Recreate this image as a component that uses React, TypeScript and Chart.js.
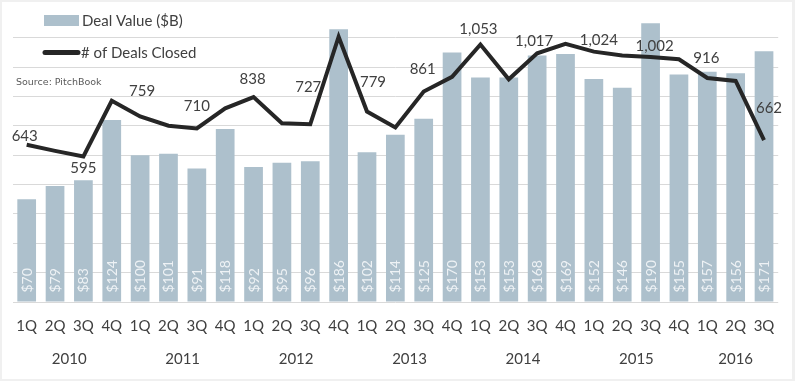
import { useEffect, useRef } from 'react';
import { Chart, registerables } from 'chart.js';

Chart.register(...registerables);

const quarterLabels = [
  '1Q', '2Q', '3Q', '4Q', '1Q', '2Q', '3Q', '4Q', '1Q', '2Q', '3Q', '4Q',
  '1Q', '2Q', '3Q', '4Q', '1Q', '2Q', '3Q', '4Q', '1Q', '2Q', '3Q', '4Q',
  '1Q', '2Q', '3Q',
];
const yearLabels = ['2010', '2011', '2012', '2013', '2014', '2015', '2016'];
const quartersPerYear = [4, 4, 4, 4, 4, 4, 3];

const dealValue = [
  70, 79, 83, 124, 100, 101, 91, 118, 92, 95, 96, 186, 102, 114, 125, 170,
  153, 153, 168, 169, 152, 146, 190, 155, 157, 156, 171,
];
const dealsClosed = [
  643, 618, 595, 823, 759, 721, 710, 792, 838, 731, 727, 1085, 779, 714, 861,
  921, 1053, 911, 1017, 1056, 1024, 1008, 1002, 993, 916, 904, 662,
];

const barTicks = { min: 0, max: 200, step: 20 };
const lineAxis = { min: 0, max: 1200 };

// style: label nudges (px) for the labelled (every other) line points
const lineLabelNudgeX = [-2, 0, 2, 0, -1, -2, 6, -1, -2, -3, 5, 4, -1, 5];
const lineLabelNudgeY = [-9, 12, -25, -22, -18, -37, -29, -22, -15, -12, -11, -11, -20, -32];

const FONT = 'Lato, "Open Sans", sans-serif';
const TEXT = '#404040';
const BAR = '#adc0cc';
const LINE = '#262626';

const decor = {
  id: 'decor',
  beforeDraw(chart: any) {
    const { ctx, width, height } = chart;
    ctx.save();
    ctx.fillStyle = '#f0f0f0';
    ctx.fillRect(0, 0, width, height);
    ctx.fillStyle = '#ffffff';
    ctx.fillRect(2, 2, width - 5, height - 4);
    ctx.restore();
  },
  afterDatasetsDraw(chart: any) {
    const { ctx } = chart;
    const xScale = chart.scales.x;
    const lineMeta = chart.getDatasetMeta(0);
    const barMeta = chart.getDatasetMeta(1);
    ctx.save();

    // bar value labels
    ctx.font = `14px ${FONT}`;
    ctx.fillStyle = '#eef2f5';
    ctx.textAlign = 'left';
    ctx.textBaseline = 'middle';
    barMeta.data.forEach((el: any, i: number) => {
      ctx.save();
      ctx.translate(el.x, el.base - 9);
      ctx.rotate(-Math.PI / 2);
      ctx.fillText(`$${dealValue[i]}`, 0, 0.5);
      ctx.restore();
    });

    // line value labels
    ctx.font = `15px ${FONT}`;
    ctx.fillStyle = TEXT;
    ctx.textAlign = 'center';
    let k = 0;
    lineMeta.data.forEach((el: any, i: number) => {
      if (i % 2 !== 0) return;
      const txt = dealsClosed[i].toLocaleString('en-US');
      ctx.fillText(txt, el.x + (lineLabelNudgeX[k] || 0), el.y + (lineLabelNudgeY[k] || -18));
      k++;
    });

    // quarter labels
    const area = chart.chartArea;
    ctx.font = `15px ${FONT}`;
    quarterLabels.forEach((q, i) => {
      ctx.fillText(q, xScale.getPixelForValue(i), area.bottom + 24);
    });
    // year labels
    let start = 0;
    yearLabels.forEach((y, j) => {
      const end = start + quartersPerYear[j] - 1;
      const cx = (xScale.getPixelForValue(start) + xScale.getPixelForValue(end)) / 2;
      ctx.fillText(y, cx, area.bottom + 57);
      start = end + 1;
    });

    // legend
    ctx.fillStyle = BAR;
    ctx.fillRect(44, 15, 35, 11);
    ctx.strokeStyle = LINE;
    ctx.lineWidth = 5;
    ctx.lineCap = 'round';
    ctx.beginPath();
    ctx.moveTo(45, 52.5);
    ctx.lineTo(78, 52.5);
    ctx.stroke();
    ctx.font = `15px ${FONT}`;
    ctx.fillStyle = TEXT;
    ctx.textAlign = 'left';
    ctx.fillText(chart.data.datasets[1].label, 82, 21);
    ctx.fillText(chart.data.datasets[0].label, 81, 53);

    // source
    ctx.font = `9.5px "DejaVu Sans", sans-serif`;
    ctx.fillStyle = '#595959';
    ctx.fillText('Source: PitchBook', 16, 83);
    ctx.restore();
  },
};

export default function App() {
  const ref = useRef<HTMLCanvasElement>(null);
  useEffect(() => {
    if (!ref.current) return;
    const chart = new Chart(ref.current, {
      type: 'bar',
      data: {
        labels: quarterLabels,
        datasets: [
          {
            type: 'line',
            label: '# of Deals Closed',
            data: dealsClosed,
            yAxisID: 'y1',
            borderColor: LINE,
            borderWidth: 4,
            pointRadius: 0,
            tension: 0,
            order: 0,
          } as any,
          {
            type: 'bar',
            label: 'Deal Value ($B)',
            data: dealValue,
            yAxisID: 'y',
            backgroundColor: BAR,
            barPercentage: 0.66,
            categoryPercentage: 1,
            order: 1,
          },
        ],
      },
      options: {
        responsive: false,
        animation: false,
        devicePixelRatio: 1,
        layout: { padding: { left: 12.5, right: 16.8, top: 8.6, bottom: 79 } },
        plugins: { legend: { display: false }, tooltip: { enabled: false } },
        scales: {
          x: { display: false },
          y: {
            min: barTicks.min,
            max: barTicks.max,
            ticks: { stepSize: barTicks.step, display: false },
            grid: {
              drawTicks: false,
              color: (c: any) => (c.tick && c.tick.value === barTicks.max ? 'rgba(0,0,0,0)' : '#d9d9d9'),
            },
            border: { display: false },
          },
          y1: { display: false, min: lineAxis.min, max: lineAxis.max },
        },
      },
      plugins: [decor],
    });
    return () => chart.destroy();
  }, []);
  return (
    <canvas
      ref={ref}
      width={795}
      height={381}
      style={{ position: 'fixed', left: 0, top: 0, width: 795, height: 381 }}
    />
  );
}
